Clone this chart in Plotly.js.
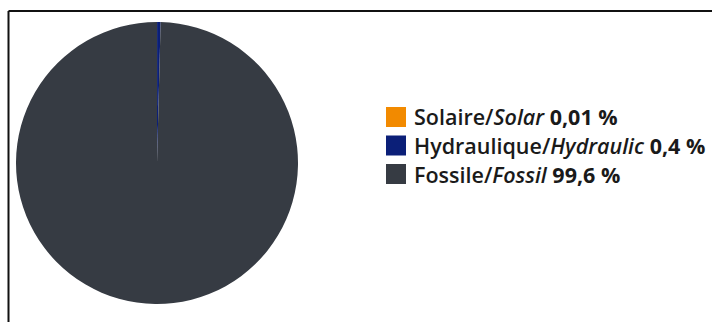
<!DOCTYPE html>
<html>
<head>
<meta charset="utf-8">
<script src="https://cdn.plot.ly/plotly-3.0.1.min.js"></script>
<style>html,body{margin:0;padding:0;background:#fff;}#chart{width:712px;height:322px;}</style>
</head>
<body>
<div id="chart"></div>
<script>
const categories = ["Solaire/<i>Solar</i>", "Hydraulique/<i>Hydraulic</i>", "Fossile/<i>Fossil</i>"];
const valueLabels = ["0,01 %", "0,4 %", "99,6 %"];
const values = [0.01, 0.4, 99.6];
const colors = ["#f28a00", "#0b1f78", "#363b43"];

const W = 712, H = 322;
const cx = 157, cy = 163, r = 141;

const trace = {
  type: "pie",
  labels: categories,
  values: values,
  sort: false,
  direction: "clockwise",
  rotation: 0,
  textinfo: "none",
  hoverinfo: "label",
  showlegend: false,
  marker: { colors: colors, line: { width: 0 } },
  domain: { x: [(cx - r) / W, (cx + r) / W], y: [(H - cy - r) / H, (H - cy + r) / H] }
};

// Legend drawn from the same arrays
const legX = 386, legSq = 20, legY0 = 117, legStep = 28.5;
const shapes = [
  { type: "line", xref: "paper", yref: "paper", x0: 8.5 / W, x1: 8.5 / W, y0: 0, y1: (H - 11) / H, line: { color: "#111", width: 2 } },
  { type: "line", xref: "paper", yref: "paper", x0: 8.5 / W, x1: 1, y0: (H - 11) / H, y1: (H - 11) / H, line: { color: "#111", width: 2 } }
];
const annotations = [];
categories.forEach((c, i) => {
  const yc = legY0 + i * legStep;
  shapes.push({
    type: "rect", xref: "paper", yref: "paper",
    x0: legX / W, x1: (legX + legSq) / W,
    y0: (H - yc - legSq / 2) / H, y1: (H - yc + legSq / 2) / H,
    fillcolor: colors[i], line: { width: 0 }
  });
  annotations.push({
    xref: "paper", yref: "paper", x: (legX + legSq + 6) / W, y: (H - yc) / H,
    xanchor: "left", yanchor: "middle", showarrow: false,
    text: c + " <b>" + valueLabels[i] + "</b>",
    font: { family: "Open Sans, sans-serif", size: 21.5, weight: 600, color: "#1a1a1a" }
  });
});

const layout = {
  width: W, height: H,
  margin: { l: 0, r: 0, t: 0, b: 0 },
  paper_bgcolor: "#ffffff",
  showlegend: false,
  shapes: shapes,
  annotations: annotations
};

Plotly.newPlot("chart", [trace], layout, { displayModeBar: false, staticPlot: true });
</script>
</body>
</html>
